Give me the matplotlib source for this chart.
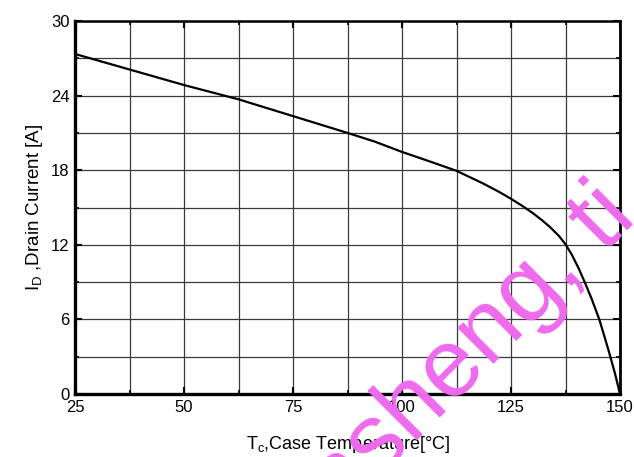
import matplotlib
matplotlib.use("Agg")
import matplotlib.pyplot as plt
from matplotlib.ticker import MultipleLocator

# Drain current derating vs. case temperature
case_temp = [25, 37.5, 50, 62.5, 75, 87.5, 93.75, 100, 106, 112.5, 118.5,
             122.3, 125, 127.5, 130, 132, 134, 136, 137.5, 139, 140.5, 142,
             143.5, 145.3, 147.3, 148.85, 150]
drain_current = [27.35, 26.1, 24.85, 23.7, 22.35, 21.0, 20.3, 19.47, 18.75,
                 17.95, 16.95, 16.25, 15.7, 15.15, 14.55, 14.01, 13.41, 12.71,
                 12.04, 11.17, 10.12, 8.92, 7.65, 5.95, 3.6, 1.65, 0.0]

x_ticks = [25, 50, 75, 100, 125, 150]
y_ticks = [0, 6, 12, 18, 24, 30]

plt.rcParams['font.family'] = ['Liberation Sans', 'DejaVu Sans']

fig = plt.figure(figsize=(6.34, 4.57), dpi=100)
ax = fig.add_axes([75 / 634, 1 - 394 / 457, 545 / 634, 373 / 457])

ax.plot(case_temp, drain_current, color='black', lw=1.6, zorder=3,
        solid_joinstyle='round')

ax.set_xlim(25, 150)
ax.set_ylim(0, 30)
ax.set_xticks(x_ticks)
ax.set_yticks(y_ticks)
ax.xaxis.set_minor_locator(MultipleLocator(12.5))
ax.yaxis.set_minor_locator(MultipleLocator(3))

ax.grid(which='both', color='#3a3a3a', lw=0.9)
ax.set_axisbelow(True)

ax.tick_params(which='both', direction='in', top=True, right=True,
               labelsize=12, pad=4, color='black')
ax.tick_params(which='major', length=5, width=1.5)
ax.tick_params(which='minor', length=3, width=1.2)

for side, lw in [('left', 2.4), ('bottom', 2.4), ('top', 1.8), ('right', 2.0)]:
    ax.spines[side].set_linewidth(lw)
    ax.spines[side].set_color('black')

ax.set_xlabel(r'T$_\mathregular{c}$,Case Temperature[°C]', fontsize=13, labelpad=14)
ax.set_ylabel(r'I$_\mathregular{D}$ ,Drain Current [A]', fontsize=13.5, labelpad=4)

# Distributor watermark
fig.text(452 / 634, 1 - 370 / 457, 'ansheng, ti', color='#EE6AEE', fontsize=70,
         rotation=45, ha='center', va='center', rotation_mode='anchor',
         zorder=10)

fig.savefig('out.png', dpi=100)
